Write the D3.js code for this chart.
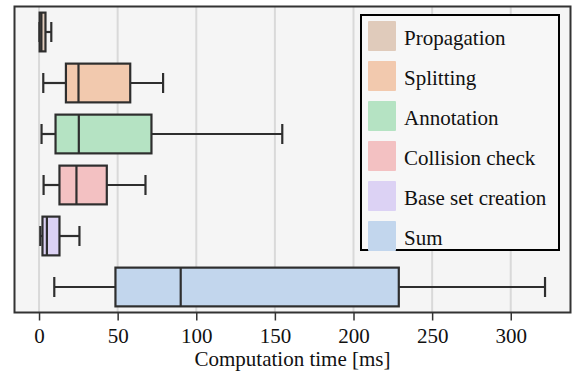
<!DOCTYPE html>
<html><head><meta charset="utf-8">
<script src="https://cdn.jsdelivr.net/npm/d3@7"></script>
<style>body{margin:0;background:#fff}svg{display:block}</style>
</head><body><svg id="c" width="577" height="372"></svg>
<script>
const categories = ["Propagation","Splitting","Annotation","Collision check","Base set creation","Sum"];
const whiskerLow  = [0.3, 2.7, 1.6, 2.9, 0.8, 9.7];
const q1          = [0.4, 17.1, 10.5, 13.0, 2.2, 48.6];
const medians     = [1.5, 25.1, 25.3, 23.8, 5.0, 90.1];
const q3          = [4.1, 58.0, 71.5, 43.1, 13.0, 228.8];
const whiskerHigh = [7.8, 78.9, 154.7, 67.7, 25.7, 321.8];
const colors = ["#e0cbbb","#f2c9ae","#b5e3c3","#f3c1c2","#dcd2f4","#c2d6ed"];
const xTicks = [0,50,100,150,200,250,300];

const FF = "'Liberation Serif', 'Times New Roman', Times, 'DejaVu Serif', serif";
const svg = d3.select("#c");
const L=14.5, R=570.5, T=6.5, B=312.5;
const x = d3.scaleLinear().domain([-15.6, 338]).range([L,R]);
const y = d3.scaleBand().domain(categories).range([T,B]).paddingInner(0.24).paddingOuter(0.12);

svg.append("rect").attr("x",L).attr("y",T).attr("width",R-L).attr("height",B-T).attr("fill","#f5f5f5");
svg.append("g").selectAll("line").data(xTicks).join("line")
  .attr("x1",d=>x(d)).attr("x2",d=>x(d)).attr("y1",T).attr("y2",B)
  .attr("stroke","#d9d9d9").attr("stroke-width",2);

const data = categories.map((c,i)=>({c,lo:whiskerLow[i],q1:q1[i],m:medians[i],q3:q3[i],hi:whiskerHigh[i],col:colors[i]}));
const lc="#2e2e2e", lw=2.2;
const g = svg.append("g").selectAll("g").data(data).join("g");
const cy = d=>y(d.c)+y.bandwidth()/2;
g.append("line").attr("x1",d=>x(d.lo)).attr("x2",d=>x(d.q1)).attr("y1",cy).attr("y2",cy).attr("stroke",lc).attr("stroke-width",lw);
g.append("line").attr("x1",d=>x(d.q3)).attr("x2",d=>x(d.hi)).attr("y1",cy).attr("y2",cy).attr("stroke",lc).attr("stroke-width",lw);
g.append("line").attr("x1",d=>x(d.lo)).attr("x2",d=>x(d.lo)).attr("y1",d=>cy(d)-10).attr("y2",d=>cy(d)+10).attr("stroke",lc).attr("stroke-width",lw);
g.append("line").attr("x1",d=>x(d.hi)).attr("x2",d=>x(d.hi)).attr("y1",d=>cy(d)-10).attr("y2",d=>cy(d)+10).attr("stroke",lc).attr("stroke-width",lw);
g.append("rect").attr("x",d=>x(d.q1)).attr("y",d=>y(d.c)).attr("width",d=>x(d.q3)-x(d.q1)).attr("height",y.bandwidth())
  .attr("fill",d=>d.col).attr("stroke",lc).attr("stroke-width",lw);
g.append("line").attr("x1",d=>x(d.m)).attr("x2",d=>x(d.m)).attr("y1",d=>y(d.c)).attr("y2",d=>y(d.c)+y.bandwidth()).attr("stroke",lc).attr("stroke-width",lw);

svg.append("rect").attr("x",L).attr("y",T).attr("width",R-L).attr("height",B-T).attr("fill","none").attr("stroke","#333").attr("stroke-width",2);

const ax = svg.append("g").attr("transform",`translate(0,${B})`).call(d3.axisBottom(x).tickValues(xTicks).tickSize(8).tickPadding(14));
ax.attr("font-family",FF).attr("font-size",21);
ax.select(".domain").remove();
ax.selectAll(".tick line").attr("stroke","#333").attr("stroke-width",1.5);
ax.selectAll(".tick text").attr("dy",null).attr("dominant-baseline","alphabetic").attr("y",30).style("font-family",FF).style("font-size","21px").attr("fill","#111");
svg.append("text").attr("x",(L+R)/2).attr("y",366).attr("text-anchor","middle").style("font-family",FF).style("font-size","21px").attr("fill","#111").text("Computation time [ms]");

// legend
const lg = svg.append("g");
lg.append("rect").attr("x",361).attr("y",15).attr("width",198).attr("height",235).attr("fill","#f7f7f7").attr("stroke","#000").attr("stroke-width",2);
const li = lg.selectAll("g").data(data).join("g").attr("transform",(d,i)=>`translate(368,${21+i*40})`);
li.append("rect").attr("width",28).attr("height",30).attr("fill",d=>d.col).attr("rx",1);
li.append("text").attr("x",36).attr("y",23.5).style("font-family",FF).style("font-size","21px").attr("fill","#111").text(d=>d.c);
</script></body></html>
